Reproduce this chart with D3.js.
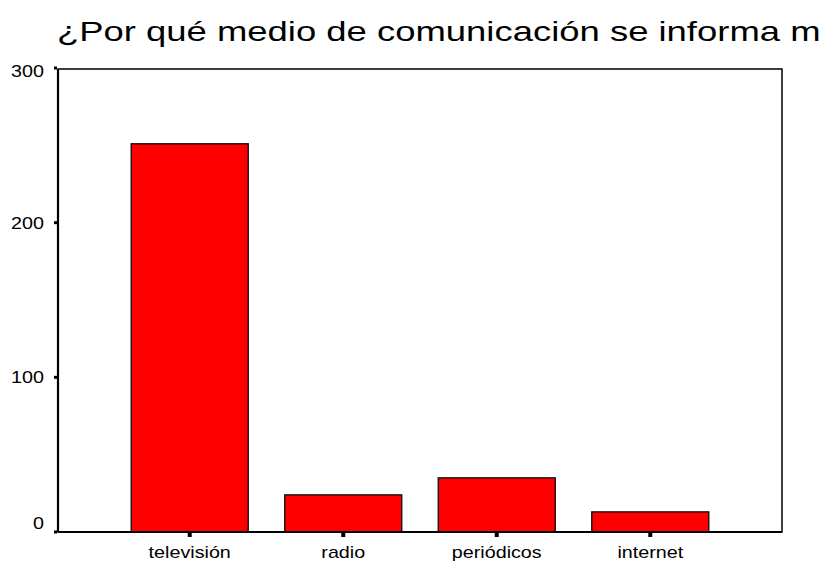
<!DOCTYPE html>
<html><head><meta charset="utf-8">
<script src="https://cdn.jsdelivr.net/npm/d3@7"></script>
<style>body{margin:0;background:#fff}svg{display:block}text{font-family:"Liberation Sans",Arial,sans-serif;fill:#000}</style>
</head><body><svg id="c" width="820" height="563"></svg>
<script>
const categories = ["televisión","radio","periódicos","internet"];
const counts = [251, 24, 35, 13];
const yTicks = [0, 100, 200, 300];
const title = "¿Por qué medio de comunicación se informa más?";

const svg = d3.select("#c");
const L = 58, R = 782, T = 68, B = 532;
const x = d3.scaleBand().domain(categories).range([L, R]).paddingInner(0.238).paddingOuter(0.477);
const y = d3.scaleLinear().domain([0, 300]).range([B, T]);
const sx = 1.16;

svg.append("text").attr("font-size", 27)
  .attr("transform", `translate(57,41) scale(1.35,1)`).text(title);

// bars
svg.selectAll("rect.bar").data(counts).join("rect").attr("class","bar")
  .attr("x", (d,i) => x(categories[i])).attr("width", x.bandwidth())
  .attr("y", d => y(d)).attr("height", d => B - y(d))
  .attr("fill", "#ff0000").attr("stroke", "#111").attr("stroke-width", 1.4);

// frame
svg.append("rect").attr("x", L).attr("y", T + 1).attr("width", R - L).attr("height", B - T - 1)
  .attr("fill", "none").attr("stroke", "#000").attr("stroke-width", 1.5);
svg.append("line").attr("x1", L).attr("x2", L).attr("y1", T + 1).attr("y2", B).attr("stroke", "#000").attr("stroke-width", 2.2);
svg.append("line").attr("x1", L).attr("x2", R).attr("y1", B).attr("y2", B).attr("stroke", "#000").attr("stroke-width", 2.2);

// y axis ticks & labels
const yAxis = svg.append("g");
yAxis.selectAll("rect").data(yTicks).join("rect")
  .attr("x", L - 4).attr("y", d => y(d) - 1.5).attr("width", 3).attr("height", 3).attr("fill", "#000");
const yOff = {0: -9, 300: 3};
yAxis.selectAll("text").data(yTicks).join("text")
  .attr("text-anchor", "end").attr("font-size", 17)
  .attr("transform", d => `translate(44,${y(d) + 6 + (yOff[d] || 0)}) scale(${sx},1)`)
  .text(d => d);

// x axis ticks & labels
const xAxis = svg.append("g");
xAxis.selectAll("rect").data(categories).join("rect")
  .attr("x", d => x(d) + x.bandwidth()/2 - 2).attr("y", B + 1).attr("width", 4).attr("height", 4).attr("fill", "#000");
xAxis.selectAll("text").data(categories).join("text")
  .attr("text-anchor", "middle").attr("font-size", 17)
  .attr("transform", d => `translate(${x(d) + x.bandwidth()/2},558) scale(${sx},1)`)
  .text(d => d);
</script></body></html>
